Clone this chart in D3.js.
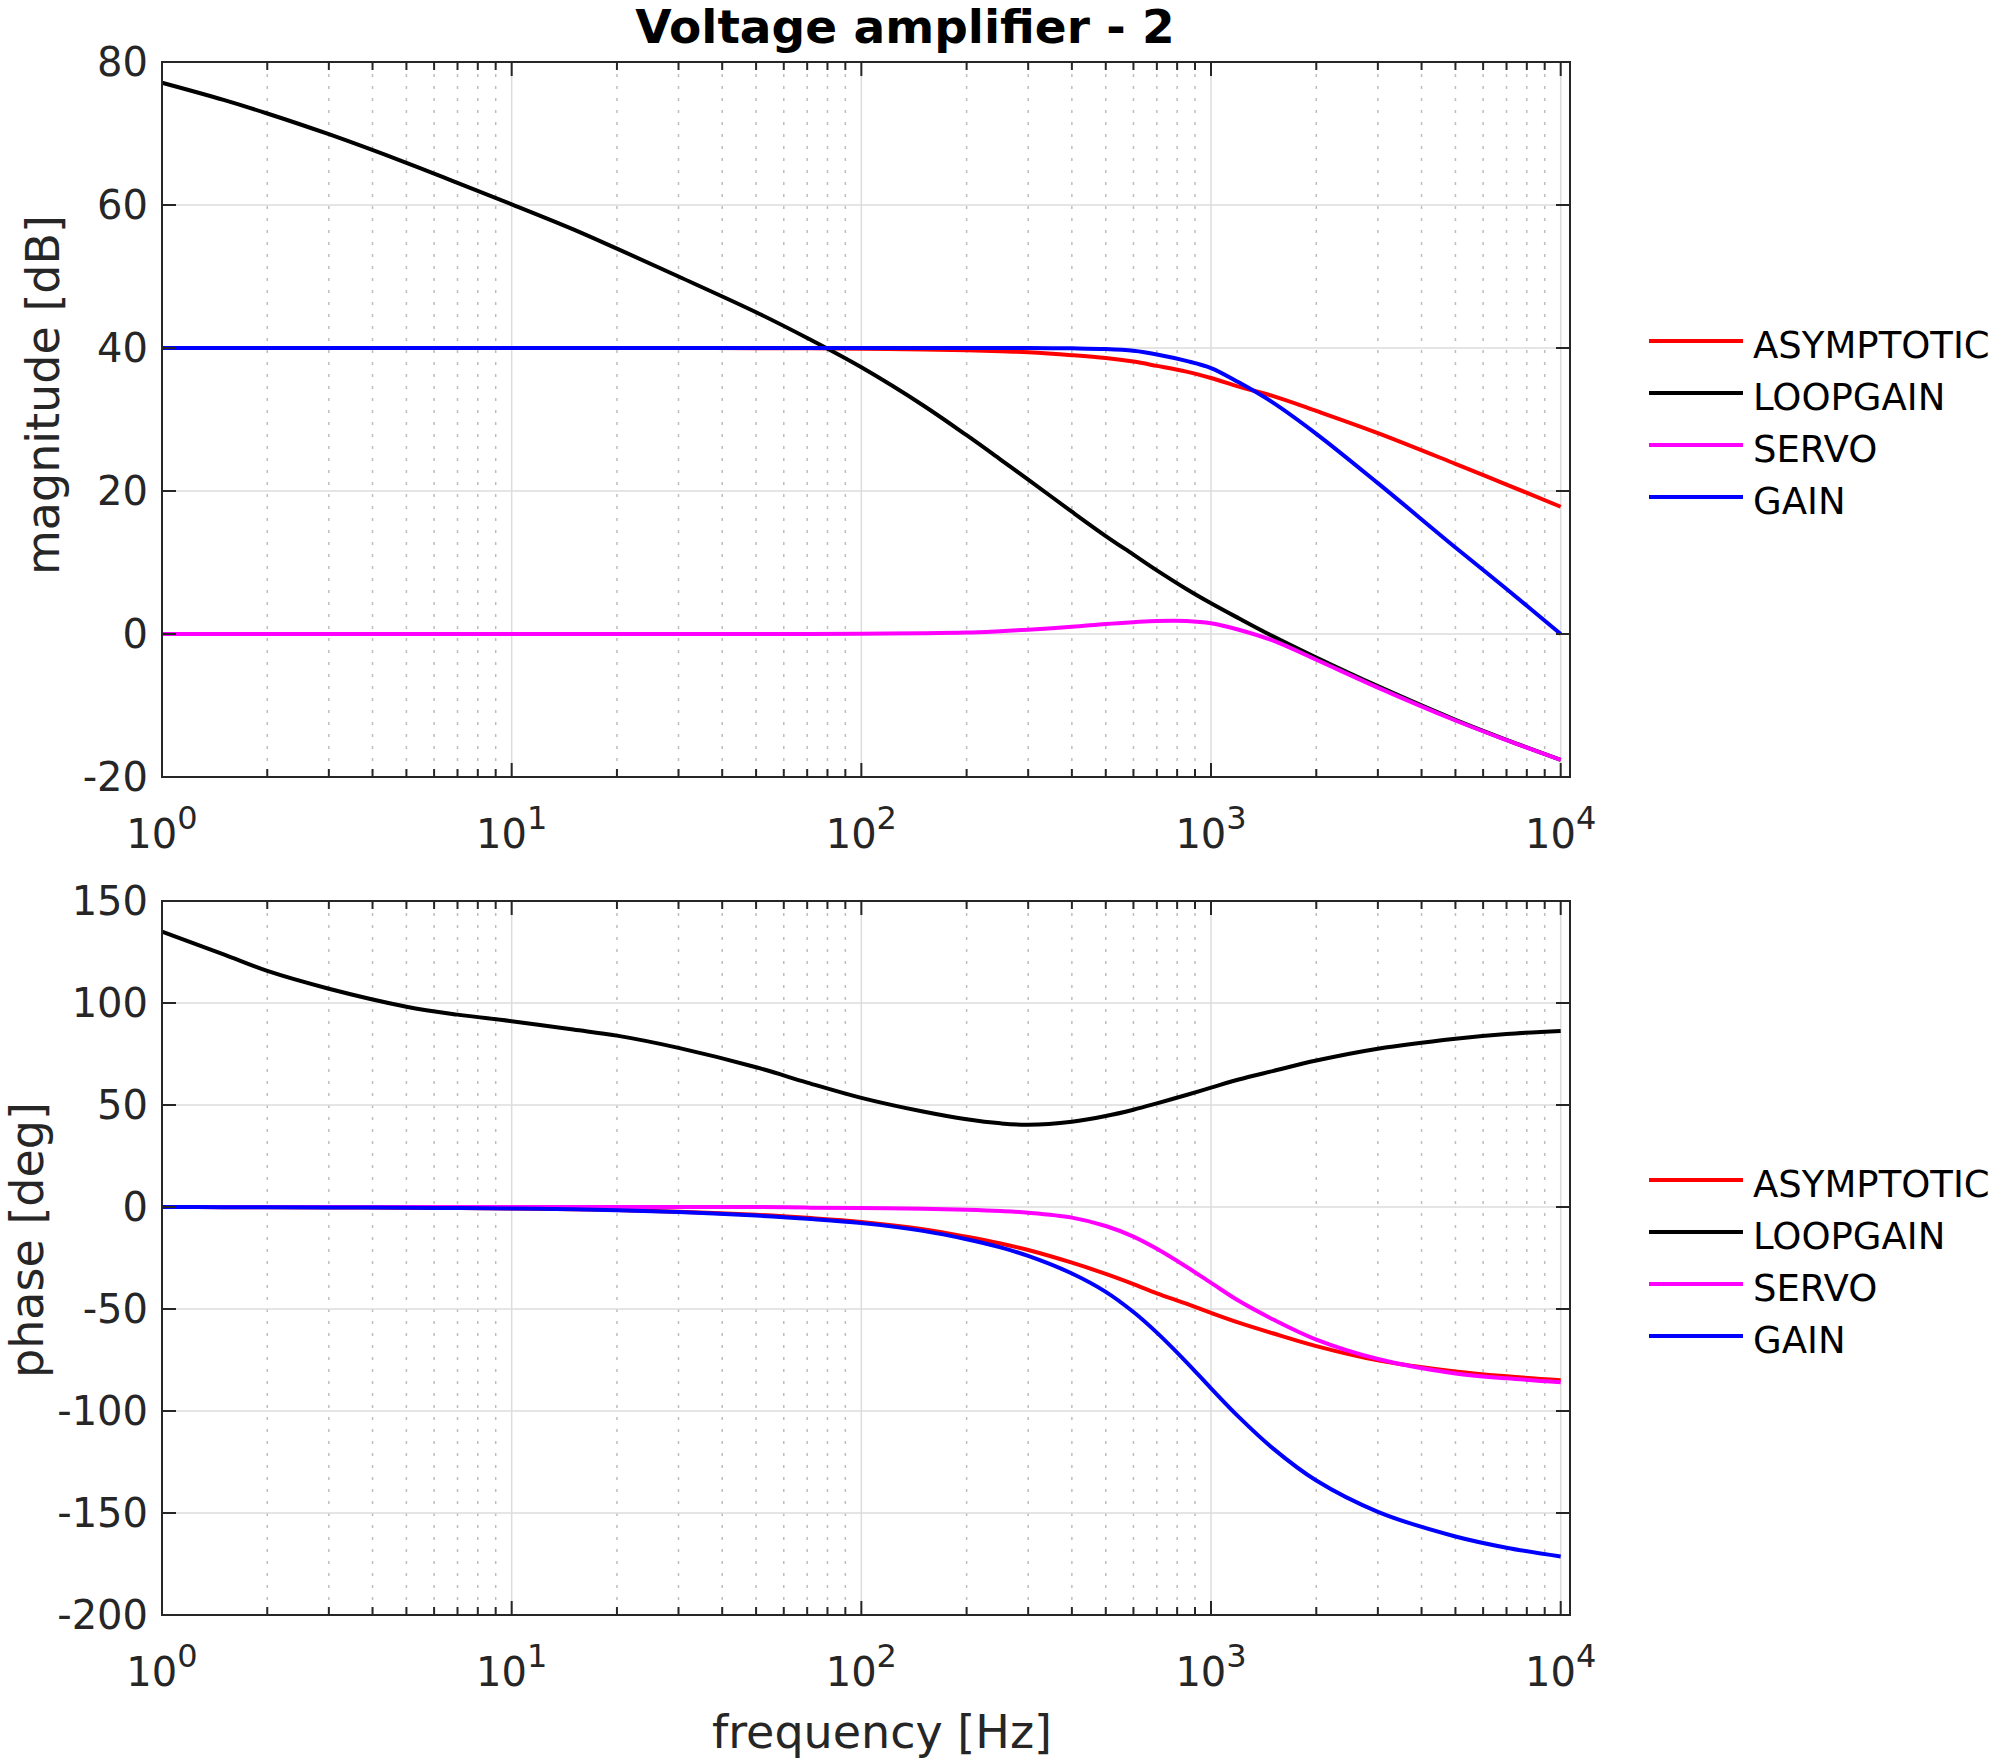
<!DOCTYPE html>
<html>
<head>
<meta charset="utf-8">
<script src="https://cdn.jsdelivr.net/npm/d3@7"></script>
<style>
body { margin: 0; background: #fff; }
text { font-family: "DejaVu Sans", sans-serif; }
</style>
</head>
<body>
<script>
var freq = [1, 1.5, 2, 3, 5, 7, 10, 15, 20, 30, 50, 70, 100, 150, 200, 250, 300, 400, 500, 600, 700, 850, 1000, 1200, 1500, 2000, 3000, 5000, 7000, 10000];

// magnitude [dB]
var magAsymptotic = [40, 40, 40, 40, 40, 40, 40, 40, 40, 40, 39.97, 39.95, 39.9, 39.8, 39.7, 39.55, 39.4, 39.0, 38.6, 38.1, 37.5, 36.7, 35.8, 34.6, 33.3, 31.2, 28.1, 23.8, 20.9, 17.8];
var magLoopgain   = [77.1, 74.7, 72.8, 69.9, 65.9, 63.1, 60.1, 56.6, 53.9, 50.0, 45.0, 41.4, 37.3, 32.0, 27.8, 24.4, 21.6, 17.1, 13.7, 11.1, 8.9, 6.3, 4.3, 2.2, -0.3, -3.3, -7.3, -12.0, -14.8, -17.6];
var magServo      = [0, 0, 0, 0, 0, 0, 0, 0, 0, 0, 0, 0, 0.05, 0.1, 0.2, 0.4, 0.6, 1.0, 1.4, 1.65, 1.82, 1.82, 1.5, 0.6, -0.9, -3.6, -7.5, -12.1, -14.85, -17.6];
var magGain       = [40, 40, 40, 40, 40, 40, 40, 40, 40, 40, 40, 40, 40, 40, 40, 40, 40, 39.95, 39.85, 39.6, 39.1, 38.2, 37.2, 35.2, 32.4, 28.0, 21.1, 12.1, 6.3, 0.0];

// phase [deg]
var phAsymptotic = [0, -0.1, -0.15, -0.2, -0.4, -0.5, -0.7, -1.1, -1.5, -2.3, -3.8, -5.3, -7.3, -10.9, -14.6, -17.9, -21.1, -27.3, -32.8, -37.8, -42.3, -47.4, -51.9, -56.7, -61.9, -68.2, -75.2, -80.6, -83.0, -84.9];
var phLoopgain   = [135.0, 123.8, 115.7, 107.0, 98.2, 94.3, 91.1, 87.0, 84.0, 78.0, 68.5, 61.0, 53.5, 46.8, 43.0, 41.0, 40.3, 41.8, 44.6, 47.7, 50.8, 54.9, 58.5, 62.5, 66.6, 71.8, 77.6, 82.5, 84.8, 86.3];
var phServo      = [0, 0, 0, 0, 0, 0, 0, 0, 0, 0, 0, -0.3, -0.5, -0.9, -1.4, -2.0, -2.8, -5.2, -9.3, -14.5, -20.5, -29.3, -37.2, -46.0, -55.0, -65.0, -74.5, -81.6, -84.0, -85.9];
var phGain       = [0, -0.1, -0.15, -0.2, -0.4, -0.5, -0.7, -1.1, -1.6, -2.5, -4.2, -5.8, -7.9, -11.7, -15.8, -19.8, -24.0, -32.6, -41.6, -51.5, -61.6, -76.0, -88.9, -102.9, -118.2, -134.1, -149.4, -161.5, -167.0, -171.3];

var seriesNames  = ["ASYMPTOTIC", "LOOPGAIN", "SERVO", "GAIN"];
var seriesColors = ["#ff0000", "#000000", "#ff00ff", "#0000ff"];

var magTicks   = [-20, 0, 20, 40, 60, 80];
var phaseTicks = [-200, -150, -100, -50, 0, 50, 100, 150];
var decades    = [1, 10, 100, 1000, 10000];
var decadeExp  = ["0", "1", "2", "3", "4"];

var W = 1990, H = 1759;
var axisColor = "#262626";

var svg = d3.select("body").append("svg")
	.attr("width", W)
	.attr("height", H)
	.style("background", "#fff");

// shared log frequency axis
var x = d3.scaleLog().domain([1, Math.pow(10, 4.0266)]).range([162, 1570]);

// minor ticks 2..9 in each decade
var minorTicks = [];
decades.forEach(function(d) {
	for (var k = 2; k <= 9; k++) {
		if (k * d < x.domain()[1]) minorTicks.push(k * d);
	}
});

var panels = [
	{ top: 62, bottom: 777, domain: [-20, 80], ticks: magTicks,
	  label: "magnitude [dB]", labelX: 59, labelY: 395, legendY: 341,
	  series: [magAsymptotic, magLoopgain, magServo, magGain] },
	{ top: 901, bottom: 1615, domain: [-200, 150], ticks: phaseTicks,
	  label: "phase [deg]", labelX: 43, labelY: 1240, legendY: 1180,
	  series: [phAsymptotic, phLoopgain, phServo, phGain] }
];

function drawPanel(p) {
	var y = d3.scaleLinear().domain(p.domain).range([p.bottom, p.top]);
	var left = x.range()[0], right = x.range()[1];
	var g = svg.append("g");

	// grid
	g.selectAll(".minorgrid").data(minorTicks).enter().append("line")
		.attr("x1", function(d) { return x(d); })
		.attr("x2", function(d) { return x(d); })
		.attr("y1", p.top).attr("y2", p.bottom)
		.attr("stroke", "#bdbdbd").attr("stroke-width", 1.5)
		.attr("stroke-dasharray", "3,9");
	g.selectAll(".vgrid").data(decades).enter().append("line")
		.attr("x1", function(d) { return x(d); })
		.attr("x2", function(d) { return x(d); })
		.attr("y1", p.top).attr("y2", p.bottom)
		.attr("stroke", "#dcdcdc").attr("stroke-width", 1.5);
	g.selectAll(".hgrid").data(p.ticks).enter().append("line")
		.attr("x1", left).attr("x2", right)
		.attr("y1", function(d) { return y(d); })
		.attr("y2", function(d) { return y(d); })
		.attr("stroke", "#dcdcdc").attr("stroke-width", 1.5);

	// curves
	var line = d3.line()
		.x(function(d, i) { return x(freq[i]); })
		.y(function(d) { return y(d); })
		.curve(d3.curveCatmullRom.alpha(0.5));
	p.series.forEach(function(s, i) {
		g.append("path")
			.attr("d", line(s))
			.attr("fill", "none")
			.attr("stroke", seriesColors[i])
			.attr("stroke-width", 4)
			.attr("stroke-linejoin", "round");
	});

	// box
	g.append("rect")
		.attr("x", left).attr("y", p.top)
		.attr("width", right - left).attr("height", p.bottom - p.top)
		.attr("fill", "none").attr("stroke", axisColor).attr("stroke-width", 2);

	// x ticks top and bottom
	[[decades, 14], [minorTicks, 8]].forEach(function(t) {
		g.selectAll(null).data(t[0]).enter().append("line")
			.attr("x1", function(d) { return x(d); })
			.attr("x2", function(d) { return x(d); })
			.attr("y1", p.bottom).attr("y2", p.bottom - t[1])
			.attr("stroke", axisColor).attr("stroke-width", 2);
		g.selectAll(null).data(t[0]).enter().append("line")
			.attr("x1", function(d) { return x(d); })
			.attr("x2", function(d) { return x(d); })
			.attr("y1", p.top).attr("y2", p.top + t[1])
			.attr("stroke", axisColor).attr("stroke-width", 2);
	});

	// y ticks left and right
	g.selectAll(null).data(p.ticks).enter().append("line")
		.attr("x1", left).attr("x2", left + 14)
		.attr("y1", function(d) { return y(d); })
		.attr("y2", function(d) { return y(d); })
		.attr("stroke", axisColor).attr("stroke-width", 2);
	g.selectAll(null).data(p.ticks).enter().append("line")
		.attr("x1", right).attr("x2", right - 14)
		.attr("y1", function(d) { return y(d); })
		.attr("y2", function(d) { return y(d); })
		.attr("stroke", axisColor).attr("stroke-width", 2);

	// y tick labels
	g.selectAll(null).data(p.ticks).enter().append("text")
		.attr("x", left - 14)
		.attr("y", function(d) { return y(d); })
		.attr("dy", "0.36em")
		.attr("text-anchor", "end")
		.attr("font-size", 40)
		.attr("fill", axisColor)
		.text(function(d) { return d; });

	// x tick labels 10^n
	decades.forEach(function(d, i) {
		var t = g.append("text")
			.attr("x", x(d))
			.attr("y", p.bottom + 71)
			.attr("text-anchor", "middle")
			.attr("font-size", 40)
			.attr("fill", axisColor);
		t.append("tspan").text("10");
		t.append("tspan").attr("dy", -19).attr("font-size", 32).text(decadeExp[i]);
	});

	// y label
	g.append("text")
		.attr("transform", "translate(" + p.labelX + "," + p.labelY + ") rotate(-90)")
		.attr("text-anchor", "middle")
		.attr("font-size", 46)
		.attr("fill", axisColor)
		.text(p.label);

	// legend
	seriesNames.forEach(function(name, i) {
		var ly = p.legendY + i * 52;
		g.append("line")
			.attr("x1", 1649).attr("x2", 1743)
			.attr("y1", ly).attr("y2", ly)
			.attr("stroke", seriesColors[i]).attr("stroke-width", 4);
		g.append("text")
			.attr("x", 1753).attr("y", ly + 16.5)
			.attr("font-size", 37)
			.attr("fill", "#000")
			.text(name);
	});
}

panels.forEach(drawPanel);

// title and x label
svg.append("text")
	.attr("x", 905).attr("y", 43)
	.attr("text-anchor", "middle")
	.attr("font-size", 47)
	.attr("font-weight", "bold")
	.attr("fill", "#000")
	.text("Voltage amplifier - 2");

svg.append("text")
	.attr("x", 882).attr("y", 1748)
	.attr("text-anchor", "middle")
	.attr("font-size", 46)
	.attr("fill", axisColor)
	.text("frequency [Hz]");
</script>
</body>
</html>
